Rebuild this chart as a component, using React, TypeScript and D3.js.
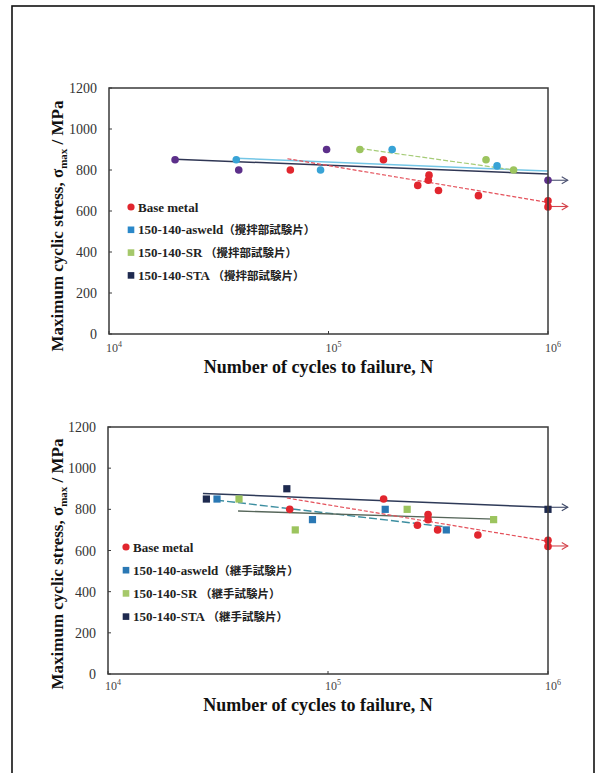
import React from "react";
import * as d3 from "d3";

// ---------- data ----------
type P = { n: number; s: number };

// Top chart (攪拌部試験片)
const topBase: P[] = [
  { n: 6.7e4, s: 800 }, { n: 1.78e5, s: 850 }, { n: 2.55e5, s: 725 }, { n: 2.85e5, s: 750 },
  { n: 2.87e5, s: 775 }, { n: 3.17e5, s: 700 }, { n: 4.82e5, s: 675 }, { n: 1e6, s: 650 }, { n: 1e6, s: 620 },
];
const topAsweld: P[] = [
  { n: 3.8e4, s: 850 }, { n: 9.2e4, s: 800 }, { n: 1.95e5, s: 900 }, { n: 5.86e5, s: 820 },
];
const topSR: P[] = [
  { n: 1.39e5, s: 900 }, { n: 5.22e5, s: 850 }, { n: 6.97e5, s: 800 },
];
const topSTA: P[] = [
  { n: 2.0e4, s: 850 }, { n: 3.9e4, s: 800 }, { n: 9.8e4, s: 900 }, { n: 1e6, s: 750 },
];
const topBaseFit: P[] = [{ n: 6.5e4, s: 855 }, { n: 1e6, s: 642 }];
const topAsweldFit: P[] = [{ n: 3.8e4, s: 857 }, { n: 1e6, s: 795 }];
const topSTAFit: P[] = [{ n: 2.0e4, s: 853 }, { n: 1e6, s: 780 }];
const topSRFit: P[] = [{ n: 1.39e5, s: 905 }, { n: 7.0e5, s: 800 }];
const topRunoutArrows = [622, 750];

// Bottom chart (継手試験片)
const botBase: P[] = [
  { n: 6.7e4, s: 800 }, { n: 1.79e5, s: 850 }, { n: 2.55e5, s: 723 }, { n: 2.85e5, s: 750 },
  { n: 2.85e5, s: 775 }, { n: 3.15e5, s: 700 }, { n: 4.8e5, s: 675 }, { n: 1e6, s: 650 }, { n: 1e6, s: 620 },
];
const botAsweld: P[] = [
  { n: 3.13e4, s: 850 }, { n: 8.5e4, s: 750 }, { n: 1.82e5, s: 800 }, { n: 3.45e5, s: 700 },
];
const botSR: P[] = [
  { n: 3.94e4, s: 850 }, { n: 7.1e4, s: 700 }, { n: 2.29e5, s: 800 }, { n: 5.66e5, s: 750 },
];
const botSTA: P[] = [
  { n: 2.8e4, s: 850 }, { n: 6.5e4, s: 900 }, { n: 1e6, s: 800 },
];
const botBaseFit: P[] = [{ n: 6.5e4, s: 855 }, { n: 1e6, s: 645 }];
const botSTAFit: P[] = [{ n: 2.7e4, s: 877 }, { n: 1e6, s: 810 }];
const botAsweldFit: P[] = [{ n: 3.1e4, s: 845 }, { n: 3.4e5, s: 715 }];
const botSRFit: P[] = [{ n: 3.9e4, s: 792 }, { n: 5.7e5, s: 752 }];
const botRunoutArrows = [622, 810];

const yTicks = [0, 200, 400, 600, 800, 1000, 1200];
const xTicks = [1e4, 1e5, 1e6];
const xExps = ["4", "5", "6"];

const topLegend = [
  { name: "Base metal", jp: "" },
  { name: "150-140-asweld", jp: "（攪拌部試験片）" },
  { name: "150-140-SR", jp: " （攪拌部試験片）" },
  { name: "150-140-STA", jp: " （攪拌部試験片）" },
];
const botLegend = [
  { name: "Base metal", jp: "" },
  { name: "150-140-asweld", jp: "（継手試験片）" },
  { name: "150-140-SR", jp: " （継手試験片）" },
  { name: "150-140-STA", jp: " （継手試験片）" },
];

const RED = "#e1262e";
const SERIF = "'Liberation Serif', 'Times New Roman', serif";
const CJK = "'Noto Sans CJK JP', sans-serif";

type Layout = {
  x0: number; x1: number; y0: number; y1: number;
  legX: number; legY: number; legStep: number;
  xLabelY: number; xTickY: number; yLabelX: number; yLabelCY: number;
};

type SeriesDef = { pts: P[]; color: string; shape: "circle" | "square" };
type FitDef = { pts: P[]; color: string; dash?: string; width: number };

function Chart(props: {
  lay: Layout;
  series: SeriesDef[];
  fits: FitDef[];
  arrows: { s: number; color: string }[];
  legend: { name: string; jp: string }[];
  legendColors: string[];
  legendShapes: ("circle" | "square")[];
}) {
  const { lay } = props;
  const x = d3.scaleLog().domain([1e4, 1e6]).range([lay.x0, lay.x1]);
  const y = d3.scaleLinear().domain([0, 1200]).range([lay.y1, lay.y0]);
  const line = d3.line<P>().x((d) => x(d.n)).y((d) => y(d.s));
  const arrowEndN = 1.23e6;
  return (
    <g>
      {/* fit lines */}
      {props.fits.map((f, i) => (
        <path key={"f" + i} d={line(f.pts) || ""} fill="none" stroke={f.color}
          strokeWidth={f.width} strokeDasharray={f.dash} />
      ))}
      {/* runout arrows */}
      {props.arrows.map((a, i) => {
        const xa = x(1e6), xb = x(arrowEndN), ya = y(a.s);
        return (
          <g key={"a" + i} stroke={a.color} strokeWidth={1.1} fill="none">
            <line x1={xa} y1={ya} x2={xb} y2={ya} />
            <polyline points={`${xb - 6},${ya - 3.5} ${xb},${ya} ${xb - 6},${ya + 3.5}`} />
          </g>
        );
      })}
      {/* points */}
      {props.series.map((s, i) =>
        s.pts.map((p, j) =>
          s.shape === "circle" ? (
            <circle key={`p${i}-${j}`} cx={x(p.n)} cy={y(p.s)} r={3.8} fill={s.color} />
          ) : (
            <rect key={`p${i}-${j}`} x={x(p.n) - 3.6} y={y(p.s) - 3.6} width={7.2} height={7.2} fill={s.color} />
          )
        )
      )}
      {/* frame */}
      <rect x={lay.x0} y={lay.y0} width={lay.x1 - lay.x0} height={lay.y1 - lay.y0}
        fill="none" stroke="#3a3a3a" strokeWidth={1.5} />
      {/* y ticks */}
      {yTicks.map((t) => (
        <g key={"yt" + t}>
          <line x1={lay.x0} x2={lay.x0 + 3} y1={y(t)} y2={y(t)} stroke="#3a3a3a" strokeWidth={1} />
          <text x={lay.x0 - 12} y={y(t) + 5} textAnchor="end" fontFamily={SERIF} fontSize={14} fill="#333">{t}</text>
        </g>
      ))}
      {/* x ticks */}
      {xTicks.map((t, i) => (
        <g key={"xt" + t}>
          <line x1={x(t)} x2={x(t)} y1={lay.y1} y2={lay.y1 - 3} stroke="#3a3a3a" strokeWidth={1} />
          <text x={x(t) + 5} y={lay.xTickY} textAnchor="middle" fontFamily={SERIF} fontSize={12} fill="#444">
            10<tspan fontSize={8} dy={-5}>{xExps[i]}</tspan>
          </text>
        </g>
      ))}
      {/* axis titles */}
      <text x={(lay.x0 + lay.x1) / 2 - 10} y={lay.xLabelY} textAnchor="middle" fontFamily={SERIF}
        fontWeight="bold" fontSize={18} fill="#111">Number of cycles to failure, N</text>
      <text transform={`translate(${lay.yLabelX},${lay.yLabelCY}) rotate(-90)`} textAnchor="middle"
        fontFamily={SERIF} fontWeight="bold" fontSize={17} fill="#111">
        Maximum cyclic stress, σ<tspan fontSize={11} dy={4}>max</tspan><tspan dy={-4}> / MPa</tspan>
      </text>
      {/* legend */}
      {props.legend.map((l, i) => {
        const ly = lay.legY + i * lay.legStep;
        return (
          <g key={"l" + i}>
            {props.legendShapes[i] === "circle" ? (
              <circle cx={lay.legX} cy={ly} r={3.6} fill={props.legendColors[i]} />
            ) : (
              <rect x={lay.legX - 3.3} y={ly - 3.3} width={6.6} height={6.6} fill={props.legendColors[i]} />
            )}
            <text x={lay.legX + 7} y={ly + 4.5} fontFamily={SERIF} fontWeight="bold" fontSize={13} fill="#222">
              {l.name}
              {l.jp && <tspan fontFamily={CJK} fontWeight="bold" fontSize={11.5}>{l.jp}</tspan>}
            </text>
          </g>
        );
      })}
    </g>
  );
}

export default function App() {
  const topLay: Layout = {
    x0: 109, x1: 548, y0: 88, y1: 334,
    legX: 131, legY: 207, legStep: 22.8,
    xLabelY: 373, xTickY: 352, yLabelX: 63, yLabelCY: 226,
  };
  const botLay: Layout = {
    x0: 108, x1: 548, y0: 427, y1: 674,
    legX: 126, legY: 547, legStep: 23.2,
    xLabelY: 711, xTickY: 690, yLabelX: 63, yLabelCY: 564,
  };
  return (
    <svg width={596} height={773} style={{ position: "absolute", left: 0, top: 0, background: "#fff" }}>
      <rect x={12} y={6} width={582} height={800} fill="none" stroke="#111" strokeWidth={1.6} />
      <Chart
        lay={topLay}
        series={[
          { pts: topBase, color: RED, shape: "circle" },
          { pts: topAsweld, color: "#38a3d6", shape: "circle" },
          { pts: topSR, color: "#9cc45e", shape: "circle" },
          { pts: topSTA, color: "#5c2f8a", shape: "circle" },
        ]}
        fits={[
          { pts: topSTAFit, color: "#2f3654", width: 1.5 },
          { pts: topAsweldFit, color: "#74c6e6", width: 1.5 },
          { pts: topSRFit, color: "#a6cc78", width: 1.2, dash: "5,2" },
          { pts: topBaseFit, color: "#e4505a", width: 1.2, dash: "4,2" },
        ]}
        arrows={[
          { s: topRunoutArrows[0], color: "#d4444c" },
          { s: topRunoutArrows[1], color: "#4c5272" },
        ]}
        legend={topLegend}
        legendColors={[RED, "#2a88c9", "#a5c86a", "#1f2a4f"]}
        legendShapes={["circle", "square", "square", "square"]}
      />
      <Chart
        lay={botLay}
        series={[
          { pts: botBase, color: RED, shape: "circle" },
          { pts: botAsweld, color: "#2a78b4", shape: "square" },
          { pts: botSR, color: "#9cc45e", shape: "square" },
          { pts: botSTA, color: "#1e2a4f", shape: "square" },
        ]}
        fits={[
          { pts: botSTAFit, color: "#2e3a58", width: 1.5 },
          { pts: botAsweldFit, color: "#3c8ea0", width: 1.4, dash: "8,3" },
          { pts: botSRFit, color: "#56665a", width: 1.3 },
          { pts: botBaseFit, color: "#e4505a", width: 1.2, dash: "4,2" },
        ]}
        arrows={[
          { s: botRunoutArrows[0], color: "#d4444c" },
          { s: botRunoutArrows[1], color: "#3e4a68" },
        ]}
        legend={botLegend}
        legendColors={[RED, "#2a78b4", "#a5c86a", "#1f2a4f"]}
        legendShapes={["circle", "square", "square", "square"]}
      />
    </svg>
  );
}
